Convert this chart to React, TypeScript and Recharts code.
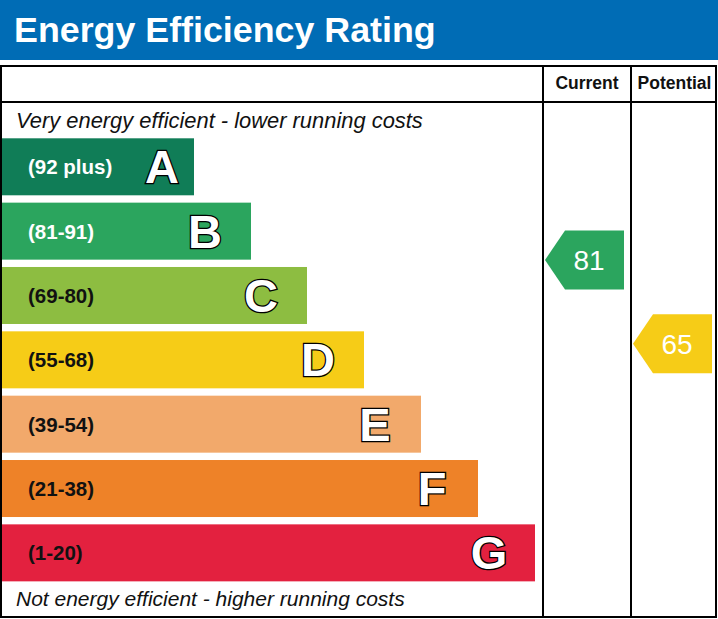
import React from 'react';
import { ComposedChart, Bar, XAxis, YAxis, Scatter, Customized } from 'recharts';

// ---- data ----
const bands = ['A', 'B', 'C', 'D', 'E', 'F', 'G'];
const rangeLabels = ['(92 plus)', '(81-91)', '(69-80)', '(55-68)', '(39-54)', '(21-38)', '(1-20)'];
const bandMinScores = [92, 81, 69, 55, 39, 21, 1];
const barLengths = [192, 249, 305, 362, 419, 476, 533];
const columnHeaders = ['Current', 'Potential'];
const ratingScores = [81, 65];
const titleText = 'Energy Efficiency Rating';
const topNote = 'Very energy efficient - lower running costs';
const bottomNote = 'Not energy efficient - higher running costs';

// ---- styles ----
const BAND_COLORS = ['#107d57', '#2ba55e', '#8dbd41', '#f6cc17', '#f2a96b', '#ee8228', '#e3213f'];
const RANGE_TEXT = ['#ffffff', '#ffffff', '#111111', '#111111', '#111111', '#111111', '#111111'];
const BLUE = '#006cb5';
const FONT = '"Liberation Sans", Arial, Helvetica, sans-serif';
const W = 718;
const H = 619;
const COL1 = 543;
const COL2 = 631;
const COL_W = COL2 - COL1;
const RIGHT = 716;
const PLOT_TOP = 134.3;
const PLOT_BOTTOM = 34.3;

const rows = bands.map((b, i) => ({ band: b, range: rangeLabels[i], length: barLengths[i] }));
const ratings = columnHeaders.map((c, i) => ({ column: c, score: ratingScores[i] }));

const bandIndexFor = (v: number) => {
  const i = bandMinScores.findIndex((m) => v >= m);
  return i < 0 ? bands.length - 1 : i;
};

const BandShape = (props: any) => {
  const { x, y, width, height, index } = props;
  const cy = y + height / 2;
  const letterX = width < 200 ? x + width - 32 : x + width - 46;
  return (
    <g>
      <rect x={x} y={y} width={width} height={height} fill={BAND_COLORS[index]} />
      <text x={x + 26} y={cy + 7.5} fontFamily={FONT} fontWeight="bold" fontSize={20.5} fill={RANGE_TEXT[index]}>
        {rangeLabels[index]}
      </text>
      <text
        x={letterX}
        y={cy + 16.5}
        textAnchor="middle"
        fontFamily={FONT}
        fontWeight="bold"
        fontSize={47}
        fill="#ffffff"
        stroke="#000000"
        strokeWidth={2.6}
        paintOrder="stroke"
      >
        {bands[index]}
      </text>
    </g>
  );
};

const ArrowShape = (p: any) => {
  const { cx, cy, payload } = p;
  const score = payload.score;
  const x0 = cx - 42;
  const tip = 20;
  const w = 79;
  const h = 59;
  const color = BAND_COLORS[bandIndexFor(score)];
  const d = `M${x0},${cy} L${x0 + tip},${cy - h / 2} L${x0 + w},${cy - h / 2} L${x0 + w},${cy + h / 2} L${x0 + tip},${cy + h / 2} Z`;
  return (
    <g>
      <path d={d} fill={color} />
      <text x={x0 + 44} y={cy + 10} textAnchor="middle" fontFamily={FONT} fontSize={28} fill="#ffffff">
        {score}
      </text>
    </g>
  );
};

const Frame = () => (
  <g>
    <rect x={0} y={0} width={W} height={60} fill={BLUE} />
    <text x={14} y={42} fontFamily={FONT} fontWeight="bold" fontSize={35.8} fill="#ffffff">
      {titleText}
    </text>
    <rect x={1} y={66} width={RIGHT - 1} height={551} fill="none" stroke="#000" strokeWidth={2} />
    <line x1={0} x2={RIGHT + 1} y1={102} y2={102} stroke="#000" strokeWidth={2} />
    <line x1={COL1} x2={COL1} y1={66} y2={618} stroke="#000" strokeWidth={2} />
    <line x1={COL2} x2={COL2} y1={66} y2={618} stroke="#000" strokeWidth={2} />
    <text x={(COL1 + COL2) / 2} y={89} textAnchor="middle" fontFamily={FONT} fontWeight="bold" fontSize={17.5} fill="#111">
      {columnHeaders[0]}
    </text>
    <text x={(COL2 + RIGHT) / 2 + 1} y={89} textAnchor="middle" fontFamily={FONT} fontWeight="bold" fontSize={17.5} fill="#111">
      {columnHeaders[1]}
    </text>
    <text x={16} y={128} fontFamily={FONT} fontStyle="italic" fontSize={21.9} fill="#111">
      {topNote}
    </text>
    <text x={16} y={606} fontFamily={FONT} fontStyle="italic" fontSize={21} fill="#111">
      {bottomNote}
    </text>
  </g>
);

export default function App() {
  return (
    <div style={{ position: 'relative', width: W, height: H, background: '#fff' }}>
      <style>{`body{margin:0;}`}</style>
      <div style={{ position: 'absolute', left: 0, top: 0 }}>
        <ComposedChart
          width={W}
          height={H}
          data={rows}
          layout="vertical"
          margin={{ top: PLOT_TOP, bottom: PLOT_BOTTOM, left: 2, right: W - 542 }}
        >
          <Customized component={Frame} />
          <XAxis type="number" domain={[0, 540]} hide />
          <YAxis type="category" dataKey="band" hide />
          <Bar dataKey="length" barSize={57} isAnimationActive={false} shape={<BandShape />} />
        </ComposedChart>
      </div>
      <div style={{ position: 'absolute', left: 0, top: 0 }}>
        <ComposedChart
          width={W}
          height={H}
          data={ratings}
          margin={{ top: PLOT_TOP, bottom: PLOT_BOTTOM, left: COL1, right: W - (COL1 + 2 * COL_W) }}
        >
          <XAxis type="category" dataKey="column" hide padding={{ left: COL_W / 2, right: COL_W / 2 }} />
          <YAxis type="number" domain={[19, 105]} allowDataOverflow hide />
          <Scatter dataKey="score" isAnimationActive={false} shape={<ArrowShape />} />
        </ComposedChart>
      </div>
    </div>
  );
}
